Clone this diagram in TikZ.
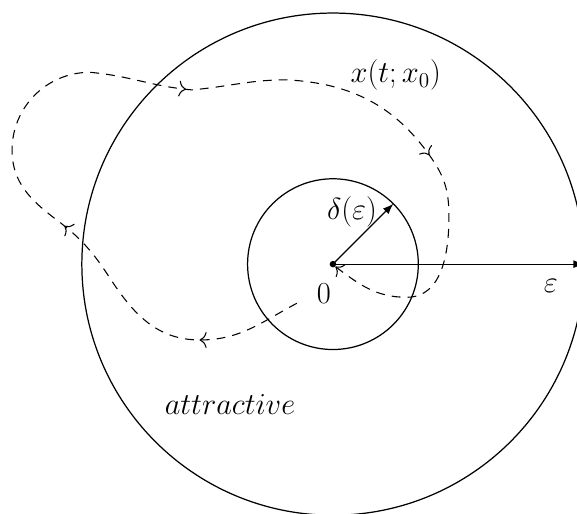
\documentclass[tikz,border=0pt]{standalone}
\usetikzlibrary{decorations.markings, arrows.meta}
\begin{document}
\begin{tikzpicture}[
    line width=0.7pt,
    lbl/.style={font=\fontsize{17.5}{21}\selectfont, inner sep=1pt},
    traj/.style={line width=0.6pt, dash pattern=on 5pt off 4pt,
      postaction={decorate},
      decoration={markings,
        mark=at position 0.094 with {\arrow[solid]{To[length=4pt, width=9pt]}},
        mark=at position 0.258 with {\arrow[solid]{To[length=4pt, width=9pt]}},
        mark=at position 0.54 with {\arrow[solid]{To[length=4pt, width=9pt]}},
        mark=at position 0.78 with {\arrow[solid]{To[length=4pt, width=9pt]}}}},
    arr/.style={-{Latex[length=6pt, width=4.5pt]}}
  ]
  \useasboundingbox (-6.63,-4.96) rectangle (4.86,5.26);
  \coordinate (O) at (0,0);
  \coordinate (E) at (5,0);
  \coordinate (D) at (45:1.7);
  \coordinate (T) at (0.05,-0.05);
  % the two balls
  \draw (O) circle (5);
  \draw (O) circle (1.7);
  \fill (O) circle (0.065);
  \draw[arr] (O) -- (E);
  \draw[arr] (O) -- (D);
  % trajectory
  \draw[traj, -{To[length=4pt, width=9pt]}] (-0.72,-0.78)
    to[out=208,in=0] (-2.65,-1.51) to[out=180,in=-57] (-4.44,-0.28)
    to[out=123,in=-37] (-5.50,0.88) to[out=143,in=-90] (-6.39,2.27)
    to[out=90,in=180] (-4.84,3.82) to[out=-5,in=175] (-2.81,3.47)
    to[out=5,in=180] (-0.92,3.67) to[out=-3,in=124] (1.99,2.07)
    to[out=-56,in=90] (2.31,0.95) to[out=-90,in=0] (1.47,-0.66)
    to[out=180,in=-37] (T);
  % labels
  \node[lbl] (xt) at (1.25,3.76) {$x(t;x_0)$};
  \node[lbl] (delta) at (0.38,1.04) {$\delta(\varepsilon)$};
  \node[lbl] (zero) at (-0.18,-0.58) {$0$};
  \node[lbl] (eps) at (4.34,-0.44) {$\varepsilon$};
  \node[lbl] (attr) at (-2.05,-2.79) {$attractive$};
\end{tikzpicture}
\end{document}
